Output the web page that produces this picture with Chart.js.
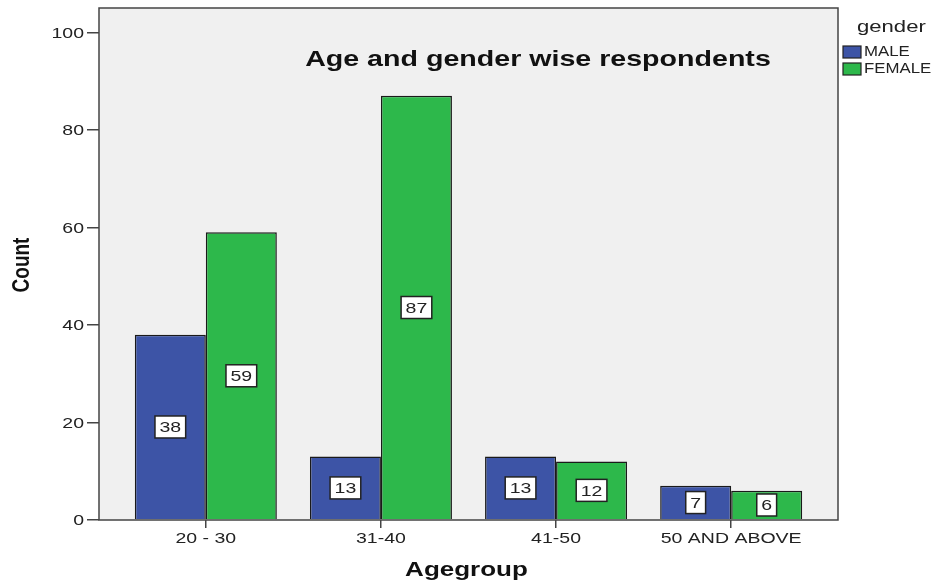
<!DOCTYPE html>
<html>
<head>
<meta charset="utf-8">
<script src="https://cdn.jsdelivr.net/npm/chart.js@4/dist/chart.umd.min.js"></script>
<style>
  html, body { margin: 0; padding: 0; background: #ffffff; }
  #wrap { width: 939px; height: 582px; }
</style>
</head>
<body>
<div id="wrap"><canvas id="c" width="939" height="582"></canvas></div>
<script>
// Respondents by age group and gender
const ageGroups = ['20 - 30', '31-40', '41-50', '50 AND ABOVE'];
const maleCounts = [38, 13, 13, 7];
const femaleCounts = [59, 87, 12, 6];
const yTicks = [0, 20, 40, 60, 80, 100];
const seriesNames = ['MALE', 'FEMALE'];

const FONT = '"Liberation Sans", Arial, sans-serif';
const BLUE = '#3d54a6';
const GREEN = '#2db84b';
const WIDE = 1.3; // horizontal stretch applied to all lettering

// Draws text widened horizontally; rot rotates the glyphs inside the widened frame
function wideText(ctx, txt, x, y, align, sx, rot) {
  ctx.save();
  ctx.translate(x, y);
  ctx.scale(sx, 1);
  if (rot) ctx.rotate(rot);
  ctx.textAlign = align;
  ctx.textBaseline = 'middle';
  ctx.fillText(txt, 0, 0);
  ctx.restore();
}

// Gray plot panel with dark frame
const panelPlugin = {
  id: 'panel',
  beforeDraw(chart) {
    const { ctx, chartArea: a } = chart;
    ctx.save();
    ctx.fillStyle = '#f0f0f0';
    ctx.fillRect(a.left, a.top, a.right - a.left, a.bottom - a.top);
    ctx.restore();
  },
  afterDraw(chart) {
    const { ctx, chartArea: a } = chart;
    ctx.save();
    ctx.strokeStyle = '#444';
    ctx.lineWidth = 1.5;
    ctx.strokeRect(a.left, a.top, a.right - a.left, a.bottom - a.top);
    ctx.restore();
  }
};

// Boxed count labels at the middle of each bar
const valueBoxPlugin = {
  id: 'valueBoxes',
  afterDatasetsDraw(chart) {
    const { ctx } = chart;
    ctx.save();
    ctx.font = '15px ' + FONT;
    chart.data.datasets.forEach((ds, di) => {
      chart.getDatasetMeta(di).data.forEach((bar, i) => {
        const txt = String(ds.data[i].y);
        const cy = (bar.y + bar.base) / 2;
        const w = Math.max(ctx.measureText(txt).width * WIDE + 9, 19);
        const h = 22;
        ctx.fillStyle = '#ffffff';
        ctx.fillRect(bar.x - w / 2, cy - h / 2, w, h);
        ctx.strokeStyle = '#222';
        ctx.lineWidth = 1.5;
        ctx.strokeRect(bar.x - w / 2, cy - h / 2, w, h);
        ctx.fillStyle = '#222';
        wideText(ctx, txt, bar.x, cy + 1, 'center', WIDE);
      });
    });
    ctx.restore();
  }
};

// Axis lettering, heading and the gender key
const textPlugin = {
  id: 'texts',
  afterDraw(chart) {
    const { ctx, chartArea: a, scales } = chart;
    const w = a.right - a.left;
    ctx.save();

    // y tick labels
    ctx.fillStyle = '#222';
    ctx.font = '15px ' + FONT;
    yTicks.forEach(v => {
      wideText(ctx, String(v), a.left - 15, scales.y.getPixelForValue(v) + 1, 'right', WIDE);
    });
    // x tick labels
    ageGroups.forEach((g, i) => {
      wideText(ctx, g, scales.x.getPixelForValue(i), a.bottom + 19, 'center', WIDE);
    });

    // axis titles
    ctx.fillStyle = '#111';
    ctx.font = 'bold 20px ' + FONT;
    wideText(ctx, 'Agegroup', (a.left + a.right) / 2 - 2, a.bottom + 50, 'center', WIDE);
    ctx.font = 'bold 19px ' + FONT;
    wideText(ctx, 'Count', 22, (a.top + a.bottom) / 2 + 1, 'center', WIDE, -Math.PI / 2);

    // heading
    ctx.font = 'bold 22px ' + FONT;
    wideText(ctx, 'Age and gender wise respondents', a.left + w * 0.594, a.top + 52, 'center', WIDE);

    // key
    const kx = a.right + 5;
    ctx.font = '17px ' + FONT;
    ctx.fillStyle = '#222';
    wideText(ctx, 'gender', kx + 14, a.top + 19, 'left', WIDE);
    const cols = [BLUE, GREEN];
    ctx.font = '14px ' + FONT;
    seriesNames.forEach((name, k) => {
      const y = a.top + 38 + k * 17;
      ctx.fillStyle = cols[k];
      ctx.fillRect(kx, y, 18, 12);
      ctx.strokeStyle = '#222';
      ctx.lineWidth = 1.2;
      ctx.strokeRect(kx, y, 18, 12);
      ctx.fillStyle = '#222';
      wideText(ctx, name, kx + 21, y + 6.5, 'left', 1.2);
    });
    ctx.restore();
  }
};

const toPoints = arr => arr.map((v, i) => ({ x: i, y: v }));

new Chart(document.getElementById('c'), {
  type: 'bar',
  data: {
    datasets: [
      { label: seriesNames[0], data: toPoints(maleCounts), backgroundColor: BLUE, borderColor: '#1a1a1a', borderWidth: 1.5 },
      { label: seriesNames[1], data: toPoints(femaleCounts), backgroundColor: GREEN, borderColor: '#1a1a1a', borderWidth: 1.5 }
    ]
  },
  options: {
    responsive: false,
    animation: false,
    devicePixelRatio: 1,
    layout: { padding: { top: 8, right: 101, left: 0, bottom: 0 } },
    datasets: { bar: { categoryPercentage: 0.811, barPercentage: 1.0 } },
    plugins: {
      legend: { display: false },
      tooltip: { enabled: false },
      title: { display: false }
    },
    scales: {
      x: {
        type: 'linear',
        min: -0.61,
        max: 3.61,
        offset: false,
        afterBuildTicks(scale) { scale.ticks = ageGroups.map((_, i) => ({ value: i })); },
        afterFit(scale) { scale.height = 62; },
        grid: { display: true, offset: false, drawOnChartArea: false, drawTicks: true, tickLength: 8, color: '#444', lineWidth: 1.5 },
        border: { display: false },
        ticks: { display: false },
        title: { display: false }
      },
      y: {
        min: 0,
        max: 105,
        afterBuildTicks(scale) { scale.ticks = yTicks.map(v => ({ value: v })); },
        afterFit(scale) { scale.width = 99; },
        grid: { display: true, drawOnChartArea: false, drawTicks: true, tickLength: 12, color: '#444', lineWidth: 1.5 },
        border: { display: false },
        ticks: { display: false },
        title: { display: false }
      }
    }
  },
  plugins: [panelPlugin, valueBoxPlugin, textPlugin]
});
</script>
</body>
</html>
